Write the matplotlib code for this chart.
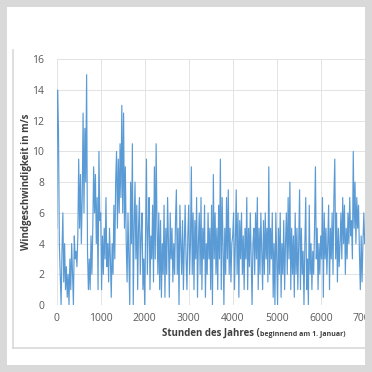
import numpy as np
import matplotlib
matplotlib.use("Agg")
import matplotlib.pyplot as plt
from matplotlib.patches import Rectangle

plt.rcParams['font.family'] = ['Open Sans', 'DejaVu Sans']

# wind speed (m/s), one reading every 20 hours
step_hours = 20
wind_0000 = [5, 14, 11.5, 4, 2, 0, 3.5, 6, 1.5, 4, 1, 2.5, 0.5, 2, 0, 3, 1, 4, 2, 0, 4.5, 3, 3.5, 2.5, 4.5]
wind_0500 = [9.5, 5, 8.5, 4, 7, 12.5, 6, 11.5, 8, 15, 3.5, 1, 3, 1, 4.5, 2, 5, 9, 6, 8.5, 4, 7, 1, 10, 5.5]
wind_1000 = [6, 1, 4.5, 2, 5, 3, 7, 2.5, 4, 1.5, 5, 3, 0.5, 4, 2, 6.5, 3, 8, 10, 5, 9.5, 6, 10.5, 7, 13]
wind_1500 = [6, 12.5, 5, 9, 4, 1.5, 6, 3, 0, 8, 4, 10.5, 0, 5, 8, 3, 6.5, 1, 5, 7, 2, 4.5, 6, 1, 3]
wind_2000 = [0, 5, 9.5, 2, 5, 7, 1, 4.5, 3, 6.5, 1.5, 9, 3, 10.5, 5, 2, 6, 1, 5.5, 0.5, 4, 2, 6.5, 0.5, 5]
wind_2500 = [2, 7, 4, 0.5, 6, 3, 5, 1.5, 4, 2, 5.5, 7.5, 2, 5, 0, 6.5, 4, 2, 5.5, 1, 4, 6.5, 3, 1, 4.5]
wind_3000 = [6.5, 2, 4, 9, 2, 6, 1, 5.5, 3, 7, 0.5, 4, 6, 2, 7, 1, 5, 3, 6.5, 0.5, 4, 2, 6, 3, 5]
wind_3500 = [1, 6.5, 0, 8.5, 3, 6, 2, 5, 1, 6.5, 3, 9.5, 1, 7, 4, 0, 5, 2, 7, 3, 7.5, 2, 5, 1.5, 4]
wind_4000 = [4.5, 6, 1, 4, 7.5, 2, 6, 0.5, 5.5, 3, 6, 2, 4.5, 1, 5, 3, 7, 1, 5, 2.5, 6, 3, 0, 4, 5]
wind_4500 = [2, 6, 3, 7, 1, 5, 2, 6, 3.5, 1, 5.5, 2, 6, 3, 5, 1.5, 9, 2, 5, 3, 6, 0.5, 4, 0, 6]
wind_5000 = [3, 0, 5, 2, 6, 0.5, 4, 2, 5.5, 1, 4, 6, 2, 7, 3, 8, 1, 5, 2, 4.5, 0.5, 6, 2, 5, 1]
wind_5500 = [4, 7.5, 1, 5, 2, 3.5, 0, 4, 7, 1, 3, 0, 6.5, 2, 4, 1, 3.5, 2, 5, 9, 3, 5, 1, 4, 2]
wind_6000 = [4.5, 3, 7, 0.5, 6, 3, 5, 2, 4, 6.5, 1, 5, 3, 6, 2, 7, 9.5, 3, 6, 1.5, 5, 2.5, 4, 6, 3]
wind_6500 = [7, 4, 6.5, 2, 5, 3, 6, 4, 7, 4.5, 5.5, 3, 10, 5, 8, 4, 7, 5, 6.5, 3.5, 1, 4.5, 1.5, 4, 6]
wind_7000 = [4, 4.5]

wind = (wind_0000 + wind_0500 + wind_1000 + wind_1500 + wind_2000 + wind_2500 + wind_3000
        + wind_3500 + wind_4000 + wind_4500 + wind_5000 + wind_5500 + wind_6000 + wind_6500 + wind_7000)
hours = np.arange(len(wind)) * step_hours

x_ticks = [0, 1000, 2000, 3000, 4000, 5000, 6000, 7000]
y_ticks = [0, 2, 4, 6, 8, 10, 12, 14, 16]

W = 372.0
fig = plt.figure(figsize=(3.72, 3.72), dpi=100, facecolor='#d9d9d9')

# white card and the thin chart frame
fig.patches.append(Rectangle((7 / W, 7 / W), 358 / W, 358 / W, transform=fig.transFigure,
                             facecolor='white', edgecolor='none', zorder=-2))
fig.add_artist(plt.Line2D([12.5 / W, 12.5 / W], [(W - 50) / W, (W - 347.5) / W],
                          transform=fig.transFigure, color='#d9d9d9', lw=1.2))
fig.add_artist(plt.Line2D([12.5 / W, 365 / W], [(W - 347.5) / W, (W - 347.5) / W],
                          transform=fig.transFigure, color='#d9d9d9', lw=1.2))

ax = fig.add_axes([56.7 / W, (W - 305) / W, 308 / W, (305 - 59.3) / W])
ax.set_facecolor('none')
ax.plot(hours, wind, color='#5b9bd5', lw=0.85)
ax.set_xlim(0, 7000)
ax.set_ylim(0, 16)
ax.set_xticks(x_ticks)
ax.set_yticks(y_ticks)
ax.grid(True, color='#e3e3e3', lw=0.7)
ax.set_axisbelow(True)
for s in ax.spines.values():
    s.set_visible(False)
ax.tick_params(length=0, labelsize=7.5, labelcolor='#595959', pad=6)
ax.tick_params(axis='y', pad=9)

fig.text(27 / W, (W - 182) / W, 'Windgeschwindigkeit in m/s', rotation=90,
         ha='center', va='center', fontsize=7, fontweight='bold', color='#404040')

t1 = fig.text(162 / W, (W - 336) / W, 'Stunden des Jahres (', ha='left', va='baseline',
              fontsize=7, fontweight='bold', color='#404040')
fig.canvas.draw()
bb = t1.get_window_extent()
fig.text(bb.x1 / fig.bbox.width, (W - 336) / W, 'beginnend am 1. Januar)', ha='left',
         va='baseline', fontsize=5, fontweight='bold', color='#404040')

# right edge of the picture is cut by the grey frame
fig.patches.append(Rectangle((365 / W, 0), 7 / W, 1, transform=fig.transFigure,
                             facecolor='#d9d9d9', edgecolor='none', zorder=100))

fig.savefig('out.png', dpi=100, facecolor=fig.get_facecolor())
